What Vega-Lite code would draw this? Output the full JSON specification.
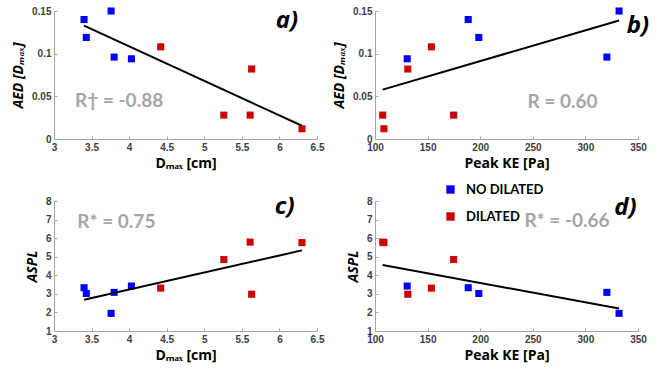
{
  "$schema": "https://vega.github.io/schema/vega-lite/v6.json",
  "background": "white",
  "padding": {"left": 11, "top": 6, "right": 5, "bottom": 5},
  "datasets": {
    "patients": [
      {"group": "NO DILATED", "Dmax": 3.40, "AED": 0.140, "KE": 188.6, "ASPL": 3.33},
      {"group": "NO DILATED", "Dmax": 3.43, "AED": 0.119, "KE": 198.7, "ASPL": 3.02},
      {"group": "NO DILATED", "Dmax": 3.76, "AED": 0.150, "KE": 332.0, "ASPL": 1.95},
      {"group": "NO DILATED", "Dmax": 3.80, "AED": 0.096, "KE": 320.4, "ASPL": 3.08},
      {"group": "NO DILATED", "Dmax": 4.03, "AED": 0.094, "KE": 130.6, "ASPL": 3.42},
      {"group": "DILATED", "Dmax": 4.42, "AED": 0.108, "KE": 153.6, "ASPL": 3.31},
      {"group": "DILATED", "Dmax": 5.26, "AED": 0.028, "KE": 174.7, "ASPL": 4.85},
      {"group": "DILATED", "Dmax": 5.61, "AED": 0.028, "KE": 107.3, "ASPL": 5.79},
      {"group": "DILATED", "Dmax": 5.63, "AED": 0.082, "KE": 131.2, "ASPL": 2.98},
      {"group": "DILATED", "Dmax": 6.30, "AED": 0.012, "KE": 108.5, "ASPL": 5.76}
    ],
    "one": [{}]
  },
  "columns": 2,
  "spacing": {"row": 24, "column": 8},
  "concat": [
    {
      "width": 263, "height": 128,
      "layer": [
        {
          "data": {"name": "patients"},
          "mark": {"type": "point", "shape": "square", "filled": true, "size": 50, "opacity": 1},
          "encoding": {
            "x": {"field": "Dmax", "type": "quantitative", "scale": {"domain": [3, 6.5], "nice": false, "zero": false},
                  "axis": {"title": "Dₘₐₓ [cm]", "values": [3, 3.5, 4, 4.5, 5, 5.5, 6, 6.5], "tickCount": 20, "labelOverlap": false, "format": ".6~g"}},
            "y": {"field": "AED", "type": "quantitative", "scale": {"domain": [0, 0.15], "nice": false},
                  "axis": {"title": "AED [Dₘₐₓ]", "titleFontStyle": "italic", "values": [0, 0.05, 0.1, 0.15], "tickCount": 20, "labelOverlap": false, "format": ".6~g"}},
            "color": {"field": "group", "type": "nominal", "scale": {"domain": ["NO DILATED", "DILATED"], "range": ["#0000ff", "#cc0000"]}, "legend": {"title": null}}
          }
        },
        {
          "data": {"name": "patients"},
          "mark": {"type": "line", "color": "black", "strokeWidth": 2},
          "transform": [{"regression": "AED", "on": "Dmax"}],
          "encoding": {"x": {"field": "Dmax", "type": "quantitative"}, "y": {"field": "AED", "type": "quantitative"}}
        },
        {
          "data": {"name": "one"},
          "mark": {"type": "text", "text": "R† = -0.88", "align": "left", "baseline": "middle", "font": "Lato", "fontWeight": "bold", "fontSize": 19, "color": "#a6a6a6"},
          "encoding": {"x": {"datum": 3.28}, "y": {"datum": 0.045}}
        },
        {
          "data": {"name": "one"},
          "mark": {"type": "text", "text": "a)", "align": "center", "baseline": "middle", "font": "Open Sans", "fontWeight": "bold", "fontStyle": "italic", "fontSize": 24, "color": "black"},
          "encoding": {"x": {"datum": 6.1}, "y": {"datum": 0.138}}
        }
      ]
    },
    {
      "width": 263, "height": 128,
      "layer": [
        {
          "data": {"name": "patients"},
          "mark": {"type": "point", "shape": "square", "filled": true, "size": 50, "opacity": 1},
          "encoding": {
            "x": {"field": "KE", "type": "quantitative", "scale": {"domain": [100, 350], "nice": false, "zero": false},
                  "axis": {"title": "Peak KE [Pa]", "values": [100, 150, 200, 250, 300, 350], "tickCount": 20, "labelOverlap": false, "format": ".6~g"}},
            "y": {"field": "AED", "type": "quantitative", "scale": {"domain": [0, 0.15], "nice": false},
                  "axis": {"title": "AED [Dₘₐₓ]", "titleFontStyle": "italic", "values": [0, 0.05, 0.1, 0.15], "tickCount": 20, "labelOverlap": false, "format": ".6~g"}},
            "color": {"field": "group", "type": "nominal", "scale": {"domain": ["NO DILATED", "DILATED"], "range": ["#0000ff", "#cc0000"]}, "legend": {"title": null}}
          }
        },
        {
          "data": {"name": "patients"},
          "mark": {"type": "line", "color": "black", "strokeWidth": 2},
          "transform": [{"regression": "AED", "on": "KE"}],
          "encoding": {"x": {"field": "KE", "type": "quantitative"}, "y": {"field": "AED", "type": "quantitative"}}
        },
        {
          "data": {"name": "one"},
          "mark": {"type": "text", "text": "R = 0.60", "align": "left", "baseline": "middle", "font": "Lato", "fontWeight": "bold", "fontSize": 19, "color": "#a6a6a6"},
          "encoding": {"x": {"datum": 245}, "y": {"datum": 0.0435}}
        },
        {
          "data": {"name": "one"},
          "mark": {"type": "text", "text": "b)", "align": "center", "baseline": "middle", "font": "Open Sans", "fontWeight": "bold", "fontStyle": "italic", "fontSize": 24, "color": "black"},
          "encoding": {"x": {"datum": 350}, "y": {"datum": 0.132}}
        }
      ]
    },
    {
      "width": 263, "height": 130,
      "layer": [
        {
          "data": {"name": "patients"},
          "mark": {"type": "point", "shape": "square", "filled": true, "size": 50, "opacity": 1},
          "encoding": {
            "x": {"field": "Dmax", "type": "quantitative", "scale": {"domain": [3, 6.5], "nice": false, "zero": false},
                  "axis": {"title": "Dₘₐₓ [cm]", "values": [3, 3.5, 4, 4.5, 5, 5.5, 6, 6.5], "tickCount": 20, "labelOverlap": false, "format": ".6~g"}},
            "y": {"field": "ASPL", "type": "quantitative", "scale": {"domain": [1, 8], "nice": false, "zero": false},
                  "axis": {"title": "ASPL", "titleFontStyle": "italic", "values": [1, 2, 3, 4, 5, 6, 7, 8], "tickCount": 20, "labelOverlap": false, "format": ".6~g"}},
            "color": {"field": "group", "type": "nominal", "scale": {"domain": ["NO DILATED", "DILATED"], "range": ["#0000ff", "#cc0000"]}, "legend": {"title": null}}
          }
        },
        {
          "data": {"name": "patients"},
          "mark": {"type": "line", "color": "black", "strokeWidth": 2},
          "transform": [{"regression": "ASPL", "on": "Dmax"}],
          "encoding": {"x": {"field": "Dmax", "type": "quantitative"}, "y": {"field": "ASPL", "type": "quantitative"}}
        },
        {
          "data": {"name": "one"},
          "mark": {"type": "text", "text": "R* = 0.75", "align": "left", "baseline": "middle", "font": "Lato", "fontWeight": "bold", "fontSize": 19, "color": "#a6a6a6"},
          "encoding": {"x": {"datum": 3.31}, "y": {"datum": 6.87}}
        },
        {
          "data": {"name": "one"},
          "mark": {"type": "text", "text": "c)", "align": "center", "baseline": "middle", "font": "Open Sans", "fontWeight": "bold", "fontStyle": "italic", "fontSize": 24, "color": "black"},
          "encoding": {"x": {"datum": 6.07}, "y": {"datum": 7.7}}
        }
      ]
    },
    {
      "width": 263, "height": 130,
      "layer": [
        {
          "data": {"name": "patients"},
          "mark": {"type": "point", "shape": "square", "filled": true, "size": 50, "opacity": 1},
          "encoding": {
            "x": {"field": "KE", "type": "quantitative", "scale": {"domain": [100, 350], "nice": false, "zero": false},
                  "axis": {"title": "Peak KE [Pa]", "values": [100, 150, 200, 250, 300, 350], "tickCount": 20, "labelOverlap": false, "format": ".6~g"}},
            "y": {"field": "ASPL", "type": "quantitative", "scale": {"domain": [1, 8], "nice": false, "zero": false},
                  "axis": {"title": "ASPL", "titleFontStyle": "italic", "values": [1, 2, 3, 4, 5, 6, 7, 8], "tickCount": 20, "labelOverlap": false, "format": ".6~g"}},
            "color": {"field": "group", "type": "nominal", "scale": {"domain": ["NO DILATED", "DILATED"], "range": ["#0000ff", "#cc0000"]}, "legend": {"title": null}}
          }
        },
        {
          "data": {"name": "patients"},
          "mark": {"type": "line", "color": "black", "strokeWidth": 2},
          "transform": [{"regression": "ASPL", "on": "KE"}],
          "encoding": {"x": {"field": "KE", "type": "quantitative"}, "y": {"field": "ASPL", "type": "quantitative"}}
        },
        {
          "data": {"name": "one"},
          "mark": {"type": "text", "text": "R* = -0.66", "align": "left", "baseline": "middle", "font": "Lato", "fontWeight": "bold", "fontSize": 19, "color": "#a6a6a6"},
          "encoding": {"x": {"datum": 242}, "y": {"datum": 6.92}}
        },
        {
          "data": {"name": "one"},
          "mark": {"type": "text", "text": "d)", "align": "center", "baseline": "middle", "font": "Open Sans", "fontWeight": "bold", "fontStyle": "italic", "fontSize": 24, "color": "black"},
          "encoding": {"x": {"datum": 338}, "y": {"datum": 7.62}}
        }
      ]
    }
  ],
  "config": {
    "view": {"stroke": null},
    "axis": {
      "grid": false,
      "domainColor": "#a6a6a6",
      "tickColor": "#a6a6a6",
      "tickSize": -3,
      "labelPadding": 6,
      "labelFont": "Liberation Sans",
      "labelFontWeight": "bold",
      "labelFontSize": 10,
      "labelColor": "#404040",
      "labelFlush": false,
      "titleFont": "Open Sans",
      "titleFontWeight": "bold",
      "titleFontSize": 14,
      "titleColor": "#000000"
    },
    "axisX": {"titlePadding": 4},
    "axisY": {"titlePadding": 6},
    "legend": {
      "orient": "none",
      "legendX": 390,
      "legendY": 172,
      "symbolType": "square",
      "symbolSize": 70,
      "symbolStrokeWidth": 0,
      "labelFont": "Lato",
      "labelFontSize": 13,
      "labelFontWeight": "bold",
      "labelColor": "#000000",
      "rowPadding": 13,
      "labelOffset": 9
    }
  }
}
